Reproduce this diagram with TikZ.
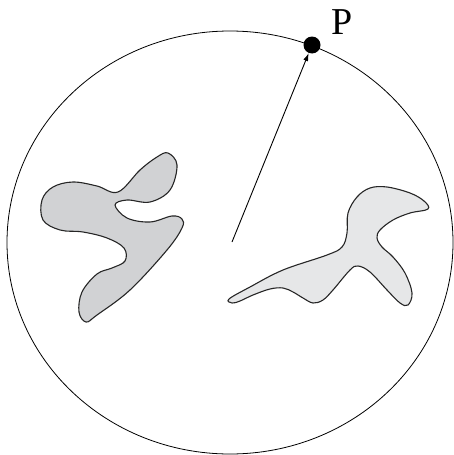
\documentclass[tikz,border=0pt]{standalone}
\usepackage{fontspec}
\setmainfont{Liberation Serif}
\usetikzlibrary{arrows.meta}
\definecolor{blobdark}{HTML}{D1D2D4}
\definecolor{bloblight}{HTML}{E6E7E8}
\tikzset{
  blob/.style={draw=black!85, line width=1.1pt, smooth cycle, tension=0.6},
  dotnode/.style={circle, fill=black, inner sep=0pt, minimum size=17pt},
}
\begin{document}
\begin{tikzpicture}[x=1pt,y=-1pt]
\useasboundingbox (0,0) rectangle (453,455);
% big circle
\draw[line width=0.8pt] (230,242.5) ellipse [x radius=223, y radius=211.5];
% left blob
\draw[blob, fill=blobdark] plot coordinates {
 (118,192) (140,170) (157,157) (168,153) (177,165) (170,190) (150,202) (127,200)
 (115,205) (127,218) (150,222) (172,216) (182,219) (182,228) (167,250) (130,290) (97,315) (86,322) (79,312)
 (82,292) (97,274) (112,268) (125,261) (124,248) (107,238) (83,232)
 (60,230) (43,220) (42,200) (53,187) (73,182) (97,186)};
% right blob
\draw[blob, fill=bloblight] plot coordinates {
 (229,299) (250,287) (283,270) (327,255) (342,247) (347,233) (348,213)
 (357,197) (370,188) (387,187) (410,193) (424,201) (428,209) (410,213)
 (393,220) (380,230) (377,238) (382,247) (393,257) (405,273) (412,293)
 (408,305) (400,303) (387,290) (370,272) (358,266) (350,270) (333,290)
 (323,300) (313,303) (303,298) (293,292) (283,288) (270,289) (253,295)
 (240,301) (232,303)};
% point P
\node[dotnode] (P) at (312,45) {};
\coordinate (O) at (232,242);
\node[font=\fontsize{38}{42}\selectfont, inner sep=0pt] (Plabel) at (342,22) {P};
\draw[line width=0.9pt, -{Latex[length=8pt,width=5pt]}] (O) -- (P);
\end{tikzpicture}
\end{document}
